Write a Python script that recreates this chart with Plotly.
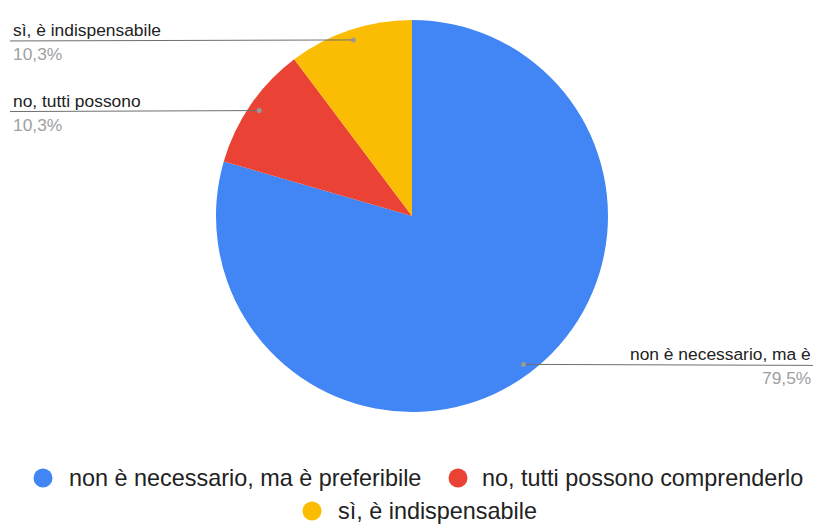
import math
import plotly.graph_objects as go

# Survey answers and their counts
categories = [
    "non è necessario, ma è preferibile",
    "no, tutti possono comprenderlo",
    "sì, è indispensabile",
]
counts = [31, 4, 4]
slice_labels = ["non è necessario, ma è", "no, tutti possono", "sì, è indispensabile"]
colors = ["#4285F4", "#EA4335", "#FBBC04"]

W, H = 816, 524
CX, CY, R = 412, 216, 196  # pie centre and radius in pixels
FONT = "Liberation Sans, Arial, sans-serif"


def px(x):
    return x / W


def py(y):
    return 1 - y / H


fig = go.Figure(
    go.Pie(
        labels=categories,
        values=counts,
        marker=dict(colors=colors, line=dict(width=0)),
        sort=False,
        direction="clockwise",
        rotation=0,
        textinfo="none",
        hoverinfo="label+percent",
        showlegend=False,
        domain=dict(x=[px(CX - R), px(CX + R)], y=[py(CY + R), py(CY - R)]),
    )
)

shapes = []
annotations = []
total = sum(counts)
start = 0.0
for lab, val in zip(slice_labels, counts):
    frac = val / total
    mid = (start + frac / 2) * 2 * math.pi  # clockwise from 12 o'clock
    start += frac
    dx = math.sin(mid) * R * 0.947
    dy = -math.cos(mid) * R * 0.947
    dot_x, dot_y = CX + dx, CY + dy
    right_side = dx > 0
    end_x = 813 if right_side else 10
    shapes.append(dict(type="line", xref="paper", yref="paper",
                       x0=px(dot_x), y0=py(dot_y), x1=px(end_x), y1=py(dot_y + 1),
                       line=dict(color="#6f6f6f", width=1)))
    shapes.append(dict(type="circle", xref="paper", yref="paper",
                       x0=px(dot_x - 2.5), x1=px(dot_x + 2.5),
                       y0=py(dot_y + 2.5), y1=py(dot_y - 2.5),
                       fillcolor="#9a9a9a", line=dict(width=0)))
    anchor = "right" if right_side else "left"
    tx = 813 if right_side else 11
    annotations.append(dict(xref="paper", yref="paper", x=px(tx), y=py(dot_y - 10),
                            text=lab, showarrow=False, xanchor=anchor, yanchor="middle",
                            font=dict(family=FONT, size=17.4, color="#222222")))
    pct = f"{frac * 100:.1f}%".replace(".", ",")
    annotations.append(dict(xref="paper", yref="paper", x=px(tx), y=py(dot_y + 14),
                            text=pct, showarrow=False, xanchor=anchor, yanchor="middle",
                            font=dict(family=FONT, size=17.4, color="#a0a0a0")))

# Legend drawn as circles + text, two centred rows
legend_items = [(43, 478, 67), (458, 478, 480), (312, 511, 336)]
for (cx, cy, tx), name, col in zip(legend_items, categories, colors):
    r = 9.5
    shapes.append(dict(type="circle", xref="paper", yref="paper",
                       x0=px(cx - r), x1=px(cx + r), y0=py(cy + r), y1=py(cy - r),
                       fillcolor=col, line=dict(width=0)))
    annotations.append(dict(xref="paper", yref="paper", x=px(tx), y=py(cy),
                            text=name, showarrow=False, xanchor="left", yanchor="middle",
                            font=dict(family=FONT, size=23.4, color="#222222")))

fig.update_layout(
    width=W, height=H,
    margin=dict(l=0, r=0, t=0, b=0),
    paper_bgcolor="white",
    plot_bgcolor="white",
    shapes=shapes,
    annotations=annotations,
)

fig.write_html("out.html")
